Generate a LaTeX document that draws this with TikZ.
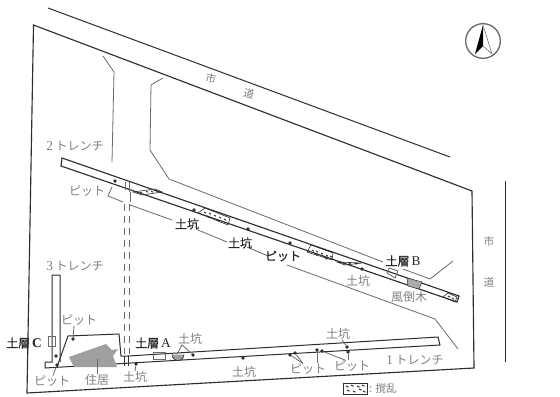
\documentclass[tikz,border=0pt]{standalone}
\usepackage{fontspec}
\setmainfont{Liberation Serif}
\newfontfamily\jp{Noto Sans CJK JP}
\newfontfamily\jpd{Noto Sans CJK JP}[FakeBold=0.6]
\newcommand{\lat}[1]{{\rmfamily\fontsize{10pt}{10pt}\selectfont #1}}
\definecolor{ink}{gray}{0.18}
\definecolor{soft}{gray}{0.42}
\definecolor{txt}{gray}{0.5}
\begin{document}
\begin{tikzpicture}[x=0.75pt,y=-0.75pt,
  ln/.style={draw=ink,line width=0.75pt,line join=miter},
  thn/.style={draw=soft,line width=0.6pt},
  lbl/.style={font=\jp\fontsize{9pt}{10pt}\selectfont,text=txt,inner sep=0pt},
  dk/.style={font=\jpd\fontsize{9pt}{10pt}\selectfont,text=black!85,inner sep=0pt},
  pit/.style={circle,fill=ink,inner sep=0pt,minimum size=2.8pt},
  tick/.style={draw=ink,line width=0.45pt},
  dsh/.style={draw=soft,line width=0.65pt,dash pattern=on 5.5pt off 3.5pt}]
\useasboundingbox (0,0) rectangle (560,396);
\fill[white] (0,0) rectangle (560,396);
% site and roads
\draw[ln,line width=0.85pt] (33.5,25) -- (472,191) -- (474,368) -- (27,393) -- cycle;
\draw[ln] (48,8) -- (450,157);
\draw[ln] (505,181) -- (505,362);
\draw[thn] (103,56) -- (114,72) -- (112,162);
\draw[thn] (163,78) -- (151,85) -- (150,150) -- (169,179) -- (383,262);
\draw[thn] (403,269) -- (430,279) -- (453,261);
\draw[thn] (130,205) -- (172,220);
\draw[thn] (198,230) -- (227,242);
\draw[thn] (247,247) -- (268,256);
\draw[thn] (287,265) -- (435,319) -- (458,349);
% trenches
\draw[ln,line width=0.85pt] (62,158) -- (459,296) -- (457,302) -- (61,166) -- cycle;
\draw[ln] (128,356) -- (438,337) -- (440,345) -- (45,368) -- (45,362) -- (52,362) -- (52,275) -- (60,275) -- (60,362);
% house area
\draw[ln] (57,367) -- (68,336) -- (119,334) -- (121,356) -- (128,356);
\draw[ln] (124,356) -- (124,366);
\draw[ln] (128,356) -- (128,366);
\fill[gray!75] (69,357) -- (106,344) -- (112,350) -- (118,349) -- (113,356) -- (117,367) -- (74,367) -- cycle;
% dashed
\draw[dsh] (124,204) -- (124,354);
\draw[dsh] (129,204) -- (129,354);
\draw[thn] (125,182) -- (125,190);
\draw[thn] (129,182) -- (129,192);
\draw[thn] (130,192) -- (130,202);
% boxes
\draw[thn] (48,336) rectangle (55,346);
\draw[thn] (153,352) rectangle (165,359);
\draw[thn] (387,273) -- (389,268) -- (398,271) -- (395,278) -- cycle;
\fill[gray!65] (407,278) -- (422,282) -- (419,289) -- (408,286) -- cycle;
\draw[ln,line width=0.35pt] (407,278) -- (422,282) -- (419,289) -- (408,286) -- cycle;
% half circle pit
\fill[gray!75] (172,354.5) arc[start angle=180,end angle=360,radius=4.5pt] -- cycle;
\draw[ink,line width=0.5pt] (172,354.5) arc[start angle=180,end angle=360,radius=4.5pt];
% disturbed patches
\draw[tick] (133,192) -- (155,189) -- (162,192) -- (142,195) -- cycle;
\draw[tick] (198,213) -- (205,208) -- (230,218) -- (228,225) -- cycle;
\draw[tick] (307,252) -- (311,245) -- (333,253) -- (332,260) -- cycle;
\draw[tick] (337,262) -- (362,263) -- (345,265) -- cycle;
\draw[tick] (443,297) -- (448,293) -- (457,297) -- (455,302) -- cycle;
\foreach \a/\b in {140/192,146/191,151/191,155/190,204/212,209/213,214/215,219/217,224/219,207/216,217/220,
 312/250,316/251,321/253,326/255,330/256,315/254,325/258,343/263,349/263,355/263,448/296,452/298}
  {\draw[ink,line width=0.7pt] (\a,\b) -- ++(2,1.2);}
% legend
\draw[ink,line width=0.6pt] (343,383) rectangle (367,394);
\foreach \a/\b in {346/386,351/385,357/386,362/385,347/390,353/391,359/389,363/391}
  {\draw[ink,line width=0.8pt] (\a,\b) -- ++(2.5,1.2);}
\node[lbl,anchor=west,font=\jp\fontsize{8pt}{9pt}\selectfont] (lgd) at (369,388.5) {: 撹乱};
% pits
\node[pit] (p1) at (115,181) {};
\node[pit] (p2) at (194,210) {};
\node[pit] (p3) at (248,229) {};
\node[pit] (p4) at (290,243) {};
\node[pit] (p5) at (362,269) {};
\node[pit] (p6) at (73,339) {};
\node[pit] (p7) at (56,356) {};
\node[pit] (p8) at (57,365) {};
\node[pit] (p9) at (136,364) {};
\node[pit] (p10) at (243,358) {};
\node[pit] (p11) at (193,355) {};
\node[pit] (p12) at (295,353) {};
\node[pit] (p13) at (290,355) {};
\node[pit] (p14) at (317,350) {};
\node[pit] (p15) at (322,351) {};
\node[pit] (p16) at (347,347) {};
\node[pit] (p17) at (348,352) {};
% labels
\tikzset{rd/.style={lbl,font=\jp\fontsize{8pt}{9pt}\selectfont}}
\node[rd,rotate=-12] (r1) at (211,79) {市};
\node[rd,rotate=-12] (r2) at (249,94) {道};
\node[rd] (r3) at (489,241) {市};
\node[rd] (r4) at (489,282) {道};
\node[lbl] (t2) at (75,146) {\lat{2} トレンチ};
\node[lbl] (t3) at (75,266) {\lat{3} トレンチ};
\node[lbl] (t1) at (415,360) {\lat{1} トレンチ};
\node[lbl] (a1) at (87,191) {ピット};
\node[dk] (a2) at (187,224) {土坑};
\node[dk] (a3) at (240,243) {土坑};
\node[dk] (a4) at (283,256) {ピット};
\node[lbl] (a5) at (358,281) {土坑};
\node[dk] (b) at (403,261) {土層\,\lat{B}};
\node[lbl] (f) at (409,297) {風倒木};
\node[dk] (c) at (24,343) {土層\,\lat{\textbf{C}}};
\node[lbl] (a6) at (79,320) {ピット};
\node[lbl] (a7) at (52,381) {ピット};
\node[lbl] (h) at (97,380) {住居};
\node[lbl] (a8) at (135,377) {土坑};
\node[dk] (a) at (153,343) {土層\,\lat{A}};
\node[lbl] (a9) at (190,339) {土坑};
\node[lbl] (a10) at (244,372) {土坑};
\node[lbl] (a11) at (338,334) {土坑};
\node[lbl] (a12) at (308,369) {ピット};
\node[lbl] (a13) at (352,366) {ピット};
% leaders
\coordinate (k1) at (108,196);
\draw[thn] (p1) ++(-3,6) -- (k1) -- (123,202);
\draw[thn] (a6.south) ++(-5,0) -- (p6);
\draw[thn] (a7.north) ++(1,0) -- (p8);
\draw[thn] (a8.north) -- (p9);
\draw[thn] (h.north) -- ++(0,-15);
\draw[thn] (a9.south) ++(-8,0) -- (177,354);
\draw[thn] (a9.south) ++(-8,0) -- (p11);
\draw[thn] (a11.south) ++(4,0) -- (p16);
\draw[thn] (a12.north) ++(-5,0) -- (p13);
\draw[thn] (a12.north) ++(-5,0) -- (p12);
\draw[thn] (a12.north) ++(9,0) -- (p14);
\draw[thn] (a13.north) ++(-6,0) -- (p15);
\draw[thn] (a13.north) ++(-4,0) -- (p17);
% north mark
\draw[soft,line width=1pt] (483,41) circle[radius=13pt];
\fill[black] (483,25) -- (475,54) -- (483,46) -- cycle;
\draw[gray,line width=0.5pt] (483,25) -- (492,54) -- (483,46);
\end{tikzpicture}
\end{document}
